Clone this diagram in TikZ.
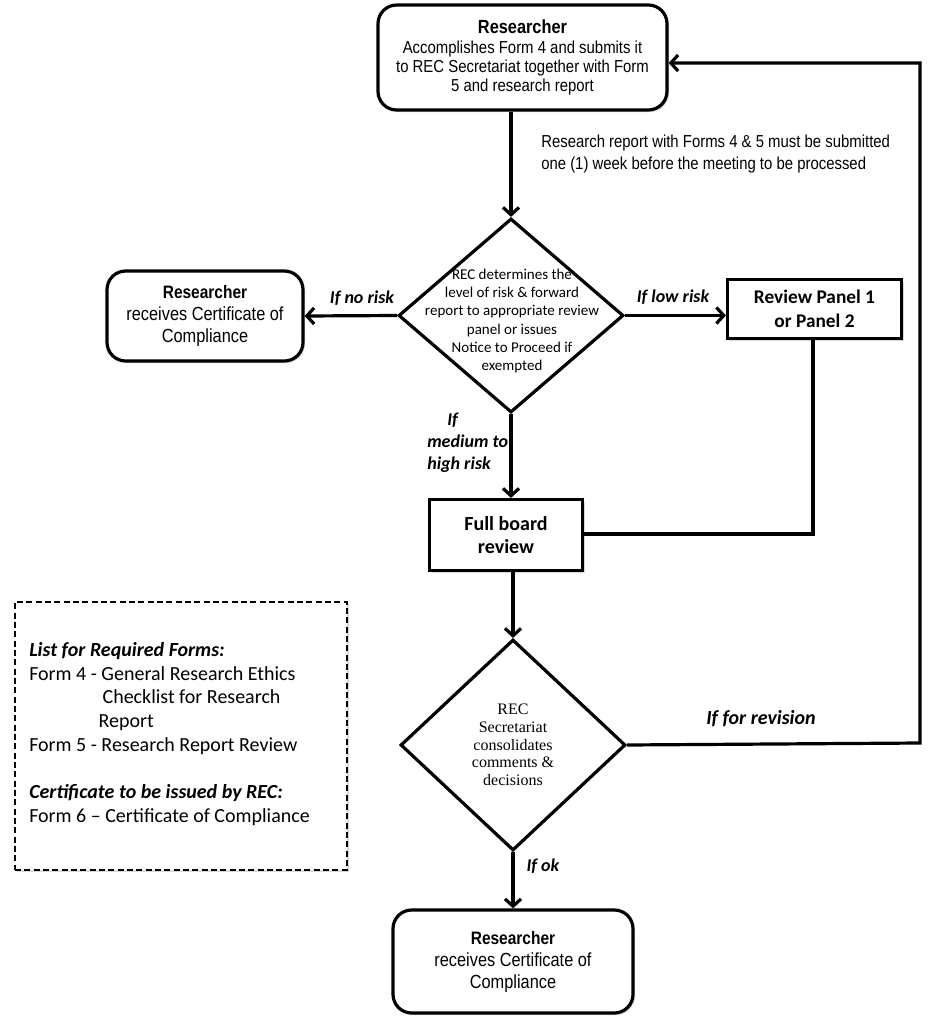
\documentclass[tikz,border=0pt]{standalone}
\usepackage{fontspec}
\setmainfont{Liberation Sans}
\newfontfamily\arialn[FakeStretch=0.86]{Liberation Sans}
\newfontfamily\calib{Carlito}
\newfontfamily\camb{Liberation Serif}
\usetikzlibrary{shapes.geometric,arrows.meta,shadows}
\begin{document}
\begin{tikzpicture}[x=0.75pt,y=-0.75pt,
  ln/.style={line width=2.4pt},
  arr/.style={line width=2.4pt,-{Straight Barb[length=5.5pt,width=12pt,line width=2.4pt]}},
  shad/.style={drop shadow={shadow xshift=1.5pt,shadow yshift=-1.5pt,opacity=0.3}},
  rbox/.style={draw,line width=2.4pt,rounded corners=14pt,fill=white,shad,align=center,inner sep=0pt},
  sbox/.style={draw,line width=2.4pt,fill=white,shad,align=center,inner sep=0pt},
  dia/.style={draw,diamond,line width=2.4pt,inner sep=0pt,fill=white},
  lab/.style={font=\calib\bfseries\itshape\fontsize{13.5pt}{16.5pt}\selectfont,inner sep=0pt}
]
\useasboundingbox (0,0) rectangle (933,1024);

% top box
\node[rbox,minimum width=216.75pt,minimum height=78.75pt,
  font=\arialn\fontsize{13pt}{14.5pt}\selectfont] (tb) at (522.5,57.5)
  {{\bfseries\fontsize{14.25pt}{15pt}\selectfont Researcher}\\[0.5pt]
   Accomplishes Form 4 and submits it\\
   to REC Secretariat together with Form\\
   5 and research report};

% note
\node[anchor=west,align=left,inner sep=0pt,font=\arialn\fontsize{13pt}{16.5pt}\selectfont] (note) at (541,154)
  {Research report with Forms 4 \& 5 must be submitted\\one (1) week before the meeting to be processed};

% diamond 1
\node[dia,minimum width=168.75pt,minimum height=145.5pt] (d1) at (511,315.5) {};
\node[align=center,inner sep=0pt,font=\calib\fontsize{11.25pt}{13.75pt}\selectfont] (d1t) at (512,321)
  {REC determines the\\level of risk \& forward\\report to appropriate review\\panel or issues\\Notice to Proceed if\\exempted};

% left box
\node[rbox,minimum width=147pt,minimum height=67.5pt,
  font=\arialn\fontsize{14.25pt}{16.5pt}\selectfont] (lb) at (205,316)
  {{\bfseries\fontsize{13.5pt}{16.5pt}\selectfont Researcher}\\
   receives Certificate of\\Compliance};

% right box
\node[sbox,minimum width=130.5pt,minimum height=44.25pt,
  font=\calib\bfseries\fontsize{14.5pt}{18pt}\selectfont] (rb) at (814.5,309)
  {Review Panel 1\\or Panel 2};

% full board
\node[sbox,minimum width=114.75pt,minimum height=53.25pt,
  font=\calib\bfseries\fontsize{15pt}{17.5pt}\selectfont] (fb) at (506,535)
  {Full board\\review};

% diamond 2
\node[dia,minimum width=168.75pt,minimum height=158.25pt] (d2) at (513,745) {};
\node[align=center,inner sep=0pt,font=\camb\fontsize{12pt}{13.25pt}\selectfont] (d2t) at (513,745)
  {REC\\Secretariat\\consolidates\\comments \&\\decisions};

% bottom box
\node[rbox,minimum width=180pt,minimum height=77.25pt,
  font=\arialn\fontsize{14.25pt}{16.5pt}\selectfont] (bb) at (513,961.5)
  {{\bfseries\fontsize{13.5pt}{16.5pt}\selectfont Researcher}\\
   receives Certificate of\\Compliance};

% legend
\node[draw,dash pattern=on 4.5pt off 2.5pt,line width=2pt,minimum width=249pt,minimum height=201pt,inner sep=0pt,shad,fill=white] (lg) at (181,736) {};
\node[anchor=north west,align=left,inner sep=0pt,font=\calib\fontsize{15pt}{17.8pt}\selectfont] (lgt) at (29,642)
  {{\bfseries\itshape List for Required Forms:}\\
   Form 4 - General Research Ethics\\
   \hspace*{55pt}Checklist for Research\\
   \hspace*{52pt}Report\\
   Form 5 - Research Report Review\\[17.8pt]
   {\bfseries\itshape Certificate to be issued by REC:}\\
   Form 6 – Certificate of Compliance};

% coordinates
\coordinate (c1) at (920,743);
\coordinate (c2) at (920,63);
\coordinate (c3) at (813,534);

% connectors
\draw[arr] (tb.south -| d1.north) -- (d1.north);
\draw[arr] (d1.west) -- (lb.east);
\draw[arr] (d1.east) -- (rb.west |- d1.east);
\draw[arr] (d1.south) -- (d1.south |- fb.north);
\draw[ln] (rb.south -| c3) -- (c3) -- (fb.east |- c3);
\draw[arr] (fb.south -| d2.north) -- (d2.north);
\draw[arr] (d2.south) -- (bb.north);
\draw[arr] (d2.east) -- (c1) -- (c2) -- (tb.east |- c2);

% labels
\node[lab] (l1) at (362,298) {If no risk};
\node[lab] (l2) at (673,297) {If low risk};
\node[lab,font=\calib\bfseries\itshape\fontsize{15pt}{18pt}\selectfont] (l3) at (761,719) {If for revision};
\node[lab] (l4) at (543,866) {If ok};
\node[lab,anchor=north west,align=left] (l5) at (427,413) {\hspace*{15pt}If\\medium to\\high risk};
\end{tikzpicture}
\end{document}
